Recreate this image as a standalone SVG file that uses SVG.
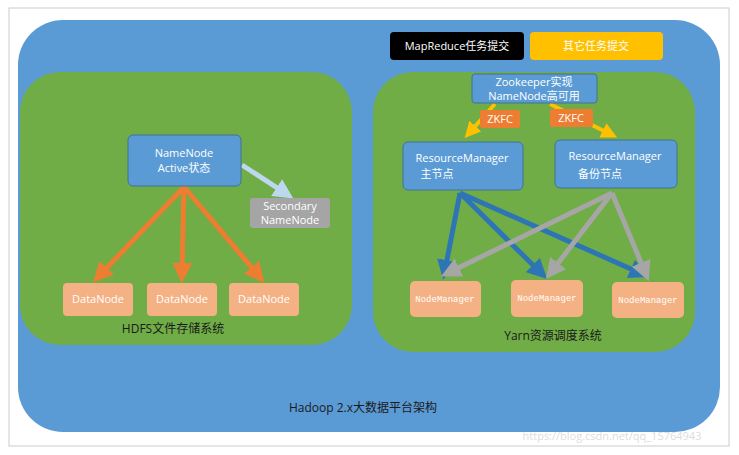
<svg xmlns="http://www.w3.org/2000/svg" width="739" height="455" viewBox="0 0 739 455">
<style>
text{font-family:"Open Sans","Liberation Sans","Noto Sans CJK SC",sans-serif;font-size:11px;text-anchor:middle}
.w{fill:#fff}
.b{fill:#5b9bd5;stroke:#41719c;stroke-width:1}
.o{fill:#f4b183}
.nm{font-family:"Liberation Mono","Noto Sans CJK SC",monospace;font-size:9px;fill:#fff}
.lb{font-size:12px;fill:#1a1a1a}
</style>
<defs>
<marker id="ao" markerWidth="4" markerHeight="4" refX="2" refY="2" orient="auto"><path d="M0,0L4,2L0,4z" fill="#ed7d31"/></marker>
<marker id="ay" markerWidth="4" markerHeight="4" refX="2" refY="2" orient="auto"><path d="M0,0L4,2L0,4z" fill="#ffc000"/></marker>
<marker id="ab" markerWidth="4" markerHeight="4" refX="2" refY="2" orient="auto"><path d="M0,0L4,2L0,4z" fill="#2e75b6"/></marker>
<marker id="ag" markerWidth="4" markerHeight="4" refX="2" refY="2" orient="auto"><path d="M0,0L4,2L0,4z" fill="#a6a6a6"/></marker>
<marker id="al" markerWidth="4" markerHeight="4" refX="2" refY="2" orient="auto"><path d="M0,0L4,2L0,4z" fill="#bdd7ee"/></marker>
</defs>
<rect width="739" height="455" fill="#fff"/>
<rect x="9" y="8" width="720" height="438" fill="none" stroke="#ccc"/>
<g id="platform"><rect x="18" y="20" width="702" height="412" rx="45" fill="#5b9bd5"/><text x="363" y="412" class="lb">Hadoop 2.x大数据平台架构</text></g>
<g id="hdfs"><rect x="20" y="72" width="332" height="273" rx="40" fill="#70ad47"/><text x="173" y="333" class="lb">HDFS文件存储系统</text></g>
<g id="yarn"><rect x="373" y="72" width="322" height="280" rx="40" fill="#70ad47"/><text x="553" y="340" class="lb">Yarn资源调度系统</text></g>
<g id="connectors" fill="none" stroke-width="5">
<path d="M184,187L100,275" stroke="#ed7d31" marker-end="url(#ao)"/>
<path d="M184,187L182,273" stroke="#ed7d31" marker-end="url(#ao)"/>
<path d="M184,187L258,275" stroke="#ed7d31" marker-end="url(#ao)"/>
<path d="M242,165L285,193" stroke="#bdd7ee" marker-end="url(#al)"/>
<path d="M495,104L470,132" stroke="#ffc000" stroke-width="4" marker-end="url(#ay)"/>
<path d="M550,104L610,134" stroke="#ffc000" stroke-width="4" marker-end="url(#ay)"/>
<path d="M460,193L445,270" stroke="#2e75b6" marker-end="url(#ab)"/>
<path d="M460,193L540,272" stroke="#2e75b6" marker-end="url(#ab)"/>
<path d="M460,193L640,273" stroke="#2e75b6" marker-end="url(#ab)"/>
<path d="M612,193L450,272" stroke="#a6a6a6" marker-end="url(#ag)"/>
<path d="M612,193L552,271" stroke="#a6a6a6" marker-end="url(#ag)"/>
<path d="M612,193L645,272" stroke="#a6a6a6" marker-end="url(#ag)"/>
</g>
<g id="mapreduce"><rect x="390" y="32" width="134" height="28" rx="4" fill="#000"/><text x="457" y="50" class="w" font-size="12">MapReduce任务提交</text></g>
<g id="other"><rect x="530" y="32" width="133" height="28" rx="4" fill="#ffc000"/><text x="596" y="50" class="w" font-size="12">其它任务提交</text></g>
<g id="zookeeper"><rect x="472" y="74" width="125" height="29" rx="3" class="b"/><text x="534" y="86" class="w">Zookeeper实现</text><text x="534" y="100" class="w">NameNode高可用</text></g>
<g id="zkfc1"><rect x="480" y="110" width="40" height="18" rx="2" fill="#ed7d31"/><text x="500" y="123" class="w" font-size="10">ZKFC</text></g>
<g id="zkfc2"><rect x="550" y="109" width="43" height="18" rx="2" fill="#ed7d31"/><text x="571" y="122" class="w" font-size="10">ZKFC</text></g>
<g id="rm1"><rect x="403" y="142" width="120" height="48" rx="5" class="b"/><text x="462" y="162" class="w">ResourceManager</text><text x="437" y="178" class="w">主节点</text></g>
<g id="rm2"><rect x="555" y="140" width="122" height="48" rx="5" class="b"/><text x="615" y="160" class="w">ResourceManager</text><text x="600" y="178" class="w">备份节点</text></g>
<g id="nm1"><rect x="410" y="281" width="71" height="36" rx="5" class="o"/><text x="445" y="302" class="nm">NodeManager</text></g>
<g id="nm2"><rect x="511" y="280" width="72" height="37" rx="5" class="o"/><text x="547" y="301" class="nm">NodeManager</text></g>
<g id="nm3"><rect x="612" y="282" width="72" height="36" rx="5" class="o"/><text x="648" y="303" class="nm">NodeManager</text></g>
<g id="namenode"><rect x="128" y="135" width="113" height="51" rx="5" class="b"/><text x="184" y="157" class="w">NameNode</text><text x="184" y="172" class="w">Active状态</text></g>
<g id="secondary"><rect x="250" y="198" width="80" height="30" rx="3" fill="#a5a5a5"/><text x="290" y="210" class="w" font-size="10">Secondary</text><text x="290" y="224" class="w" font-size="10">NameNode</text></g>
<g id="dn1"><rect x="63" y="283" width="70" height="33" rx="4" class="o"/><text x="98" y="303" class="w">DataNode</text></g>
<g id="dn2"><rect x="147" y="283" width="70" height="33" rx="4" class="o"/><text x="182" y="303" class="w">DataNode</text></g>
<g id="dn3"><rect x="229" y="283" width="70" height="33" rx="4" class="o"/><text x="264" y="303" class="w">DataNode</text></g>
<text x="612" y="440" fill="#ddd" font-size="11">https://blog.csdn.net/qq_15764943</text>
</svg>
